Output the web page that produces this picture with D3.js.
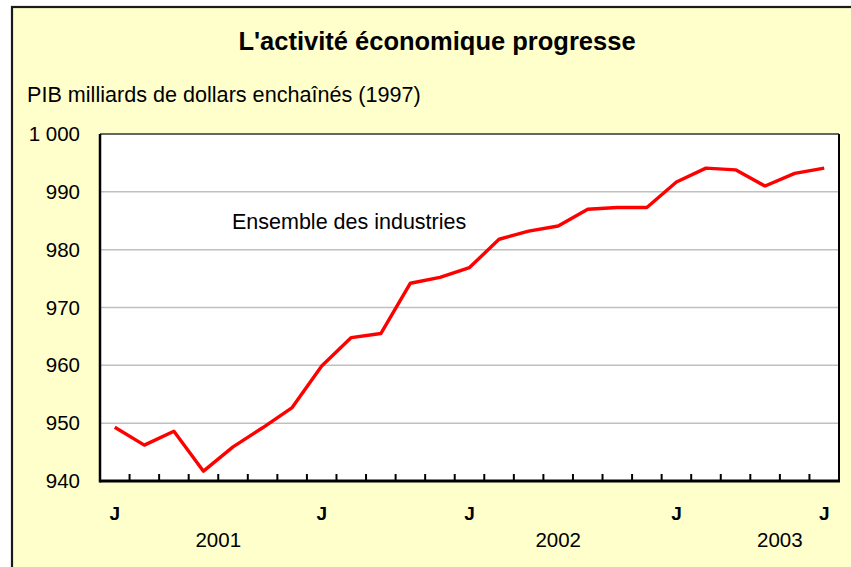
<!DOCTYPE html>
<html><head><meta charset="utf-8">
<script src="https://cdn.jsdelivr.net/npm/d3@7"></script>
<style>
html,body{margin:0;padding:0;background:#fff;}
text{font-family:"Liberation Sans",Arial,sans-serif;fill:#000;}
</style></head>
<body><svg id="c" width="851" height="567"></svg>
<script>
// ---- data ----
const months = ["2001-06","2001-07","2001-08","2001-09","2001-10","2001-11","2001-12",
  "2002-01","2002-02","2002-03","2002-04","2002-05","2002-06","2002-07","2002-08","2002-09",
  "2002-10","2002-11","2002-12","2003-01","2003-02","2003-03","2003-04","2003-05","2003-06"];
const gdp = [949.3,946.2,948.6,941.7,945.9,949.2,952.7,959.9,964.8,965.5,974.2,975.2,976.9,
  981.8,983.2,984.1,987.0,987.3,987.3,991.7,994.1,993.8,991.0,993.2,994.1];
const monthLabels = ["J","","","","","","","J","","","","","J","","","","","","","J","","","","","J"];
const yearLabels = ["2001","2002","2003"];
const yearSpans = [["2001-06","2002-01"],["2002-03","2003-03"],["2003-03","2003-06"]];
const yTicks = [940,950,960,970,980,990,1000];
const title = "L'activité économique progresse";
const subtitle = "PIB milliards de dollars enchaînés (1997)";
const seriesName = "Ensemble des industries";

// ---- layout ----
const svg = d3.select("#c");
const L = 100, R = 839, T = 134, B = 481;

svg.append("rect").attr("x",12).attr("y",7).attr("width",851).attr("height",580)
  .attr("fill","#ffffcc").attr("stroke","#1a1a1a").attr("stroke-width",2.2);

const x = d3.scaleBand().domain(months).range([L,R]).padding(0);
const y = d3.scaleLinear().domain([940,1000]).range([B,T]);
const bw = x.bandwidth();

svg.append("rect").attr("x",L).attr("y",T).attr("width",R-L).attr("height",B-T).attr("fill","#fff");

// gridlines
svg.append("g").selectAll("line").data(yTicks.filter(v=>v>940 && v<1000)).join("line")
  .attr("x1",L).attr("x2",R).attr("y1",d=>y(d)).attr("y2",d=>y(d))
  .attr("stroke","#c0c0c0").attr("stroke-width",1.5);

// plot border top/right
svg.append("line").attr("x1",L).attr("x2",R).attr("y1",T).attr("y2",T).attr("stroke","#333").attr("stroke-width",1.5);
svg.append("line").attr("x1",R).attr("x2",R).attr("y1",T).attr("y2",B).attr("stroke","#000").attr("stroke-width",2);

// y labels
const fmt = v => d3.format(",")(v).replace(/,/g," ");
svg.append("g").selectAll("text").data(yTicks).join("text")
  .attr("x",80).attr("y",d=>y(d)+7).attr("text-anchor","end")
  .style("font-size","20.5px").text(fmt);

// x ticks between categories (inside)
svg.append("g").selectAll("line").data(months.slice(1)).join("line")
  .attr("x1",d=>x(d)).attr("x2",d=>x(d)).attr("y1",B).attr("y2",B-7)
  .attr("stroke","#000").attr("stroke-width",2);

// axes lines
svg.append("line").attr("x1",L).attr("x2",L).attr("y1",T).attr("y2",B+1.5).attr("stroke","#000").attr("stroke-width",2.5);
svg.append("line").attr("x1",L).attr("x2",R+1).attr("y1",B).attr("y2",B).attr("stroke","#000").attr("stroke-width",3);

// month labels
svg.append("g").selectAll("text").data(months).join("text")
  .attr("x",d=>x(d)+bw/2).attr("y",520).attr("text-anchor","middle")
  .style("font-size","19px").style("font-weight","bold")
  .text((d,i)=>monthLabels[i]);

// year labels
svg.append("g").selectAll("text").data(yearLabels).join("text")
  .attr("x",(d,i)=>(x(yearSpans[i][0]) + x(yearSpans[i][1]) + bw)/2).attr("y",547)
  .attr("text-anchor","middle").style("font-size","20.5px").text(d=>d);

// line
const line = d3.line().x((d,i)=>x(months[i])+bw/2).y(d=>y(d));
svg.append("path").datum(gdp).attr("d",line).attr("fill","none")
  .attr("stroke","#ff0000").attr("stroke-width",3.4).attr("stroke-linejoin","round");

// texts
svg.append("text").attr("x",437).attr("y",50).attr("text-anchor","middle")
  .style("font-size","25.5px").style("font-weight","bold").text(title);
svg.append("text").attr("x",27).attr("y",102).style("font-size","21.6px").text(subtitle);
svg.append("text").attr("x",232).attr("y",229).style("font-size","21.5px").text(seriesName);
</script></body></html>
